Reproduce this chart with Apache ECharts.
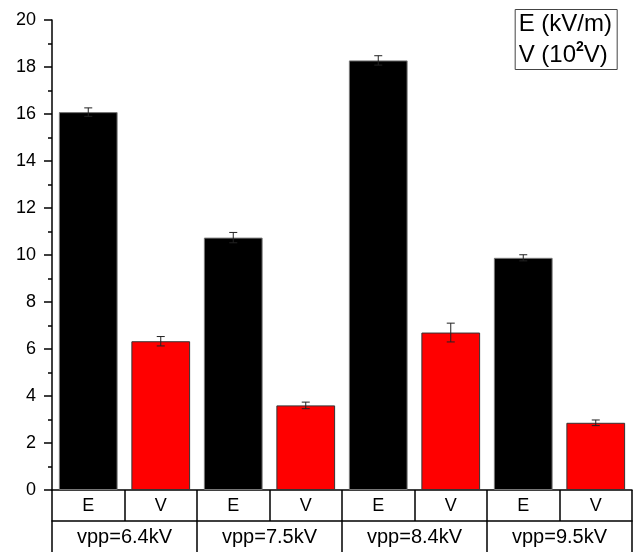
<!DOCTYPE html>
<html><head><meta charset="utf-8">
<script src="https://cdn.jsdelivr.net/npm/echarts@6/dist/echarts.min.js"></script>
<style>html,body{margin:0;padding:0;background:#fff}#c{width:635px;height:552px}</style>
</head><body><div id="c"></div>
<script>
const groups = ['vpp=6.4kV','vpp=7.5kV','vpp=8.4kV','vpp=9.5kV'];
const subCats = ['E','V'];
const eValues = [16.08, 10.74, 18.28, 9.88];
const eErrors = [0.18, 0.22, 0.2, 0.13];
const vValues = [6.33, 3.6, 6.7, 2.86];
const vErrors = [0.2, 0.14, 0.4, 0.12];
const yTicks = {min:0, max:20, interval:2};

const cats = [], barData = [], errData = [];
groups.forEach((g,i)=>{
  cats.push(subCats[0]); cats.push(subCats[1]);
  barData.push({value:eValues[i], itemStyle:{color:'#000', borderColor:'#777', borderWidth:1}});
  barData.push({value:vValues[i], itemStyle:{color:'#ff0000', borderColor:'#333', borderWidth:1}});
  errData.push([2*i, eValues[i], eErrors[i]]);
  errData.push([2*i+1, vValues[i], vErrors[i]]);
});

const chart = echarts.init(document.getElementById('c'));
const font = 'Liberation Sans, Arial, sans-serif';
chart.setOption({
  animation:false,
  grid:{left:52, right:3, top:20, bottom:62},
  title:{
    right:18, top:6,
    borderColor:'#444', borderWidth:1, padding:[3,5,2,4],
    text:'{a|E (kV/m)}\n{a|V (10}{s|2}{a|V)}',
    textStyle:{
      rich:{
        a:{fontSize:24, fontFamily:font, color:'#000', lineHeight:31, fontWeight:'normal'},
        s:{fontSize:14, fontFamily:font, color:'#000', lineHeight:31, verticalAlign:'top', padding:[0,0,11,0]}
      }
    }
  },
  xAxis:[{
    type:'category', data:cats, position:'bottom',
    axisLine:{lineStyle:{color:'#000', width:1.5}},
    axisTick:{show:true, length:31, lineStyle:{color:'#000', width:1.5}},
    axisLabel:{color:'#000', fontSize:18, fontFamily:font, margin:7}
  },{
    type:'category', data:groups, position:'bottom', offset:31,
    axisLine:{lineStyle:{color:'#000', width:1.5}},
    axisTick:{show:true, length:40, lineStyle:{color:'#000', width:1.5}},
    axisLabel:{color:'#000', fontSize:20, fontFamily:font, margin:6}
  }],
  yAxis:{
    type:'value', min:yTicks.min, max:yTicks.max, interval:yTicks.interval,
    axisLine:{show:true, lineStyle:{color:'#000', width:1.5}},
    axisTick:{show:true, length:8, lineStyle:{color:'#000', width:1.5}},
    minorTick:{show:true, splitNumber:2, length:4, lineStyle:{color:'#000', width:1.5}},
    splitLine:{show:false},
    axisLabel:{color:'#000', fontSize:18, fontFamily:font, margin:16}
  },
  series:[{
    type:'bar', xAxisIndex:0, data:barData, barWidth:'81%'
  },{
    type:'custom', xAxisIndex:0, data:errData, z:10,
    renderItem:function(params, api){
      const x = api.value(0), v = api.value(1), e = api.value(2);
      const top = api.coord([x, v+e]), bot = api.coord([x, v-e]);
      const hw = 4;
      const st = {stroke:'#222', lineWidth:1};
      return {type:'group', children:[
        {type:'line', shape:{x1:top[0], y1:top[1], x2:bot[0], y2:bot[1]}, style:st},
        {type:'line', shape:{x1:top[0]-hw, y1:top[1], x2:top[0]+hw, y2:top[1]}, style:st},
        {type:'line', shape:{x1:bot[0]-hw, y1:bot[1], x2:bot[0]+hw, y2:bot[1]}, style:st}
      ]};
    }
  }]
});
</script></body></html>
